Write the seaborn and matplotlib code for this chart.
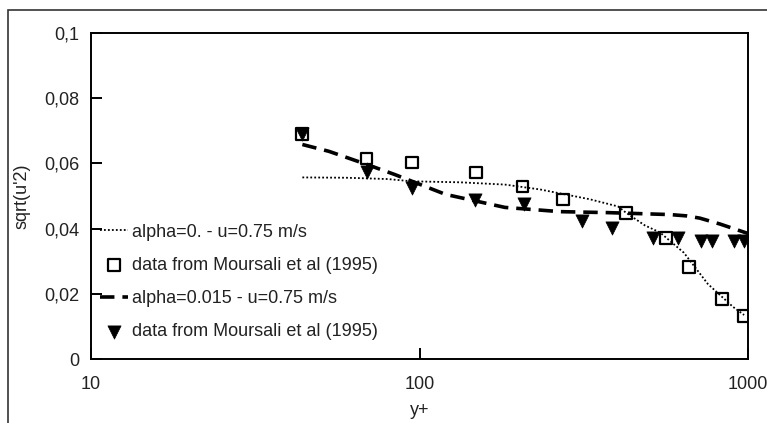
import matplotlib
matplotlib.use("Agg")
import matplotlib.pyplot as plt
import matplotlib.patches as mpatches
import seaborn as sns

# ---- data ----
sq_x = [44, 69, 95, 149, 206, 273, 425, 563, 661, 834, 973]
sq_y = [0.0689, 0.0615, 0.0603, 0.0572, 0.0529, 0.0489, 0.0449, 0.0372, 0.0283, 0.0185, 0.0132]

tri_x = [44, 69, 95, 148, 208, 313, 385, 514, 612, 719, 776, 906, 973]
tri_y = [0.0689, 0.0575, 0.0526, 0.0489, 0.0474, 0.0422, 0.0403, 0.0372, 0.0372, 0.0363, 0.0363, 0.0363, 0.0363]

dot_x = [44, 60, 80, 95, 133, 182, 233, 330, 402, 425, 485, 540, 638, 755, 900, 973]
dot_y = [0.0557, 0.0556, 0.0552, 0.0545, 0.0542, 0.0535, 0.0520, 0.0490, 0.0468, 0.0449, 0.0410, 0.0388, 0.0326, 0.0230, 0.0160, 0.0135]

dash_x = [44, 53, 69, 84, 120, 182, 268, 375, 579, 650, 714, 822, 1000]
dash_y = [0.0658, 0.0637, 0.0597, 0.0566, 0.0505, 0.0465, 0.0452, 0.0449, 0.0443, 0.0439, 0.0432, 0.0414, 0.0385]

labels = ["alpha=0. - u=0.75 m/s",
          "data from Moursali et al (1995)",
          "alpha=0.015 - u=0.75 m/s",
          "data from Moursali et al (1995)"]

y_ticks = [0, 0.02, 0.04, 0.06, 0.08, 0.1]
y_ticklabels = ["0", "0,02", "0,04", "0,06", "0,08", "0,1"]
x_ticks = [10, 100, 1000]
x_ticklabels = ["10", "100", "1000"]

FS = 13

# ---- style ----
sns.set_style("ticks")
plt.rcParams['font.family'] = ['Liberation Sans', 'DejaVu Sans']
plt.rcParams['font.size'] = FS

fig = plt.figure(figsize=(7.67, 4.23), dpi=100)
ax = fig.add_axes([91/767, 1-359/423, (748-91)/767, (359-33)/423])

sns.lineplot(x=dot_x, y=dot_y, ax=ax, color="black", linestyle=(0, (1, 1.2)),
             linewidth=1.3, label=labels[0], sort=True)
sns.scatterplot(x=sq_x, y=sq_y, ax=ax, marker="s", s=72, facecolor="none",
                edgecolor="black", linewidth=1.6, label=labels[1], zorder=3)
sns.lineplot(x=dash_x, y=dash_y, ax=ax, color="black", linewidth=2.6,
             label=labels[2], sort=True)
ax.lines[-1].set_dashes((4, 2.2))
sns.scatterplot(x=tri_x, y=tri_y, ax=ax, marker="v", s=90, color="black",
                edgecolor="black", linewidth=0.5, label=labels[3], zorder=3)

ax.set_xscale("log")
ax.set_xlim(10, 1000)
ax.set_ylim(0, 0.1)
ax.set_xticks(x_ticks)
ax.set_xticklabels(x_ticklabels)
ax.xaxis.set_minor_locator(matplotlib.ticker.NullLocator())
ax.set_yticks(y_ticks)
ax.set_yticklabels(y_ticklabels)
ax.tick_params(axis="both", direction="in", length=8, width=1.4, color="black",
               labelsize=FS, labelcolor="#222222")
ax.tick_params(axis="y", pad=8.5)
ax.tick_params(axis="x", pad=12.5)
for sp in ax.spines.values():
    sp.set_visible(True)
    sp.set_linewidth(1.4)
    sp.set_color("black")

ax.set_xlabel("y+", fontsize=FS, color="#222222")
ax.set_ylabel("sqrt(u'2)", fontsize=FS, color="#222222")
ax.xaxis.set_label_coords(0.5, (359-410)/326)
ax.yaxis.set_label_coords((22-91)/657, 0.5)
ax.yaxis.label.set_va("center")
ax.xaxis.label.set_va("center")

handles, labs = ax.get_legend_handles_labels()
leg = ax.legend(handles=handles, labels=labs, loc="upper left",
                bbox_to_anchor=((100-91)/657, (359-223.5)/326),
                frameon=False, borderaxespad=0, borderpad=0,
                handlelength=1.55, handletextpad=0.2, labelspacing=0.9,
                fontsize=FS)
for t in leg.get_texts():
    t.set_color("#222222")

# outer frame (cut off at right and bottom)
rect = mpatches.Rectangle((8/767, -0.2), 1.5, 0.2 + (1-10/423), transform=fig.transFigure,
                          fill=False, edgecolor="#333333", linewidth=1.2, clip_on=False)
fig.patches.append(rect)

fig.savefig("out.png", dpi=100)
